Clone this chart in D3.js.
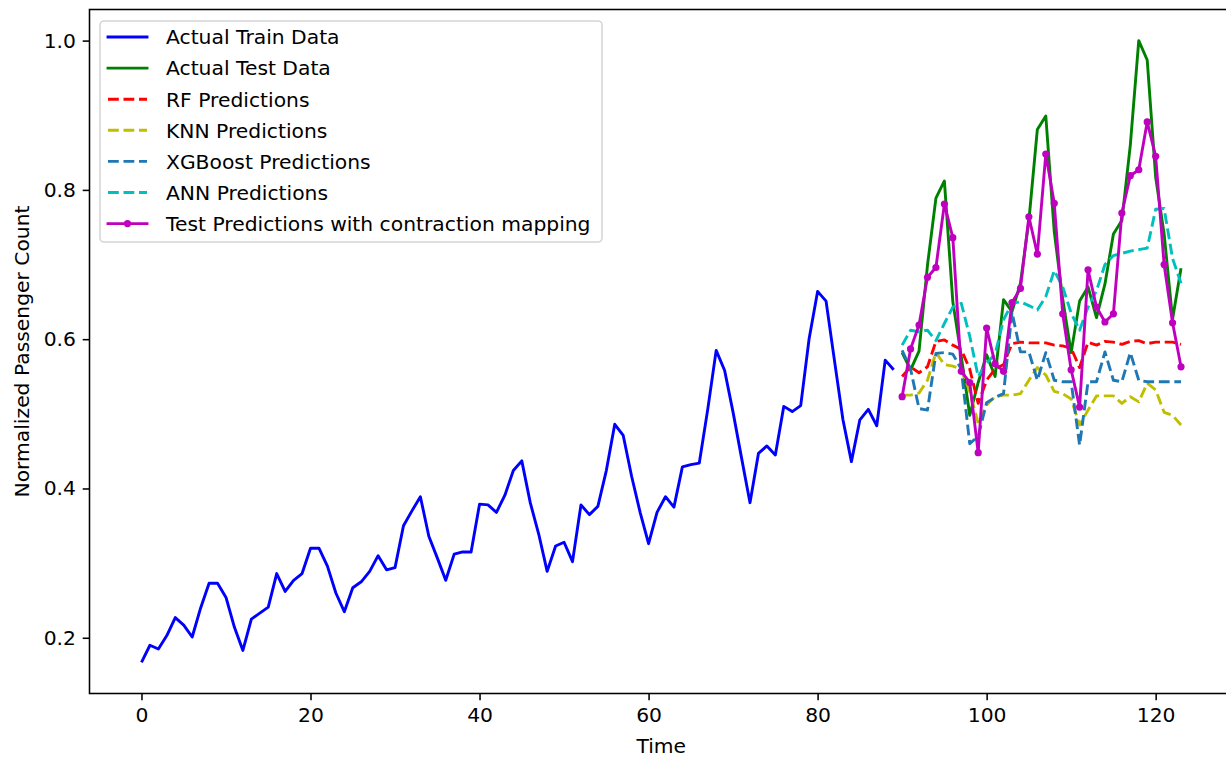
<!DOCTYPE html>
<html>
<head>
<meta charset="utf-8">
<script src="https://cdn.jsdelivr.net/npm/d3@7"></script>
<style>
body{margin:0;background:#fff;}
text{font-family:"DejaVu Sans",sans-serif;fill:#000;}
</style>
</head>
<body>
<div id="chart"></div>
<script>
// actual series (normalized passenger count)
var trainData = [
  0.167,0.190,
  0.185,0.203,0.227,0.217,0.201,0.240,0.273,0.273,0.254,0.214,0.183,0.225,
  0.233,0.241,0.286,0.262,0.277,0.286,0.320,0.320,0.296,0.260,0.235,0.267,
  0.275,0.289,0.310,0.291,0.294,0.350,0.370,0.389,0.336,0.307,0.277,0.312,
  0.315,0.315,0.379,0.378,0.368,0.391,0.424,0.437,0.381,0.339,0.289,0.323,
  0.328,0.302,0.378,0.365,0.376,0.424,0.486,0.471,0.416,0.368,0.326,0.368,
  0.389,0.375,0.429,0.432,0.434,0.506,0.585,0.558,0.502,0.441,0.381,0.447,
  0.457,0.445,0.510,0.503,0.511,0.601,0.664,0.651,0.571,0.492,0.436,0.492,
  0.506,0.484,0.572,0.559
];
var testData = [
  0.582,0.559,0.584,0.699,0.789,0.812,0.650,0.577,0.498,0.542,
  0.579,0.550,0.653,0.637,0.675,0.759,0.881,0.899,0.744,0.654,0.582,0.651,
  0.670,0.629,0.674,0.741,0.759,0.860,1.000,0.974,0.817,0.741,0.627,0.695
];
var testStart = 90;

// model predictions over the test range
var rfPred = [0.550,0.563,0.555,0.563,0.597,0.599,0.592,0.586,0.560,0.514,0.545,0.560,0.566,0.594,0.596,0.595,0.595,
  0.595,0.592,0.591,0.588,0.562,0.596,0.592,0.597,0.596,0.593,0.597,0.598,0.594,0.596,0.596,0.596,0.593];
var knnPred = [0.525,0.525,0.528,0.545,0.582,0.566,0.564,0.560,0.530,0.487,0.512,0.523,0.525,0.525,0.527,0.545,0.562,
  0.552,0.530,0.527,0.520,0.485,0.505,0.524,0.524,0.524,0.514,0.523,0.516,0.541,0.532,0.502,0.498,0.485];
var xgbPred = [0.585,0.560,0.507,0.505,0.581,0.582,0.580,0.560,0.460,0.470,0.515,0.522,0.527,0.636,0.583,0.583,0.545,
  0.582,0.545,0.543,0.543,0.458,0.543,0.543,0.583,0.545,0.543,0.582,0.545,0.543,0.543,0.543,0.543,0.543];
var annPred = [0.592,0.612,0.610,0.612,0.598,0.621,0.643,0.648,0.604,0.550,0.568,0.580,0.626,0.648,0.650,0.645,0.639,
  0.657,0.692,0.670,0.635,0.612,0.643,0.665,0.700,0.712,0.715,0.718,0.720,0.722,0.774,0.775,0.708,0.675];
var cmPred = [0.523,0.587,0.619,0.683,0.696,0.781,0.736,0.557,0.542,0.448,0.615,0.567,0.557,0.649,0.668,0.764,0.714,
  0.848,0.782,0.634,0.559,0.509,0.693,0.643,0.623,0.634,0.769,0.819,0.827,0.891,0.845,0.700,0.622,0.563];

var xTicks = [0,20,40,60,80,100,120];
var yTicks = [0.2,0.4,0.6,0.8,1.0];

var chart = {};
(function(ns){
  var W = 1226, H = 758;
  var left = 89.5, right = 1233, top = 9.5, bottom = 693.5;
  var fs = 20.3, lw = 2.9, dash = "10.8,4.7";

  var x = d3.scaleLinear().domain([-6.15, 129.15]).range([left, right]);
  var y = d3.scaleLinear().domain([0.12535, 1.04165]).range([bottom, top]);

  var svg = d3.select("#chart").append("svg").attr("width", W).attr("height", H);

  var series = [
    {name:"Actual Train Data", data:trainData, start:0, color:"#0000ff"},
    {name:"Actual Test Data", data:testData, start:testStart, color:"#008000"},
    {name:"RF Predictions", data:rfPred, start:testStart, color:"#ff0000", dashed:true},
    {name:"KNN Predictions", data:knnPred, start:testStart, color:"#bfbf00", dashed:true},
    {name:"XGBoost Predictions", data:xgbPred, start:testStart, color:"#1f77b4", dashed:true},
    {name:"ANN Predictions", data:annPred, start:testStart, color:"#00bfbf", dashed:true},
    {name:"Test Predictions with contraction mapping", data:cmPred, start:testStart, color:"#bf00bf", marker:true}
  ];

  series.forEach(function(s){
    var line = d3.line().x(function(d,i){ return x(s.start + i); }).y(function(d){ return y(d); });
    svg.append("path").datum(s.data).attr("d", line)
      .attr("fill","none").attr("stroke", s.color).attr("stroke-width", lw)
      .attr("stroke-linejoin","round")
      .attr("stroke-dasharray", s.dashed ? dash : null);
    if (s.marker) {
      svg.append("g").selectAll("circle").data(s.data).join("circle")
        .attr("cx", function(d,i){ return x(s.start + i); })
        .attr("cy", function(d){ return y(d); })
        .attr("r", 3.6).attr("fill", s.color);
    }
  });

  // axes
  var xAxis = svg.append("g").attr("transform","translate(0,"+bottom+")")
    .call(d3.axisBottom(x).tickValues(xTicks).tickSize(6.8).tickPadding(6.8).tickFormat(d3.format("d")));
  var yAxis = svg.append("g").attr("transform","translate("+left+",0)")
    .call(d3.axisLeft(y).tickValues(yTicks).tickSize(6.8).tickPadding(6.8).tickFormat(d3.format(".1f")));
  [xAxis, yAxis].forEach(function(a){
    a.select(".domain").remove();
    a.selectAll(".tick line").attr("stroke","#000").attr("stroke-width",1.55);
    a.selectAll(".tick text").attr("font-size", fs).attr("font-family","DejaVu Sans").attr("fill","#000");
  });

  svg.append("rect").attr("x", left).attr("y", top)
    .attr("width", right-left).attr("height", bottom-top)
    .attr("fill","none").attr("stroke","#000").attr("stroke-width",1.55);

  svg.append("text").attr("x", (left+right)/2).attr("y", 753)
    .attr("text-anchor","middle").attr("font-size", fs).text("Time");
  svg.append("text").attr("transform","translate(29,"+((top+bottom)/2)+") rotate(-90)")
    .attr("text-anchor","middle").attr("font-size", fs).text("Normalized Passenger Count");

  // legend
  var lg = svg.append("g");
  lg.append("rect").attr("x",100).attr("y",21).attr("width",502).attr("height",221)
    .attr("rx",4).attr("fill","#fff").attr("fill-opacity",0.8)
    .attr("stroke","#d5d5d5").attr("stroke-width",1.55);
  series.forEach(function(s,i){
    var cy = 37 + i*31.1;
    lg.append("line").attr("x1",108).attr("x2",147).attr("y1",cy).attr("y2",cy)
      .attr("stroke", s.color).attr("stroke-width", lw)
      .attr("stroke-linecap", s.dashed ? "butt" : "square")
      .attr("stroke-dasharray", s.dashed ? dash : null);
    if (s.marker) lg.append("circle").attr("cx",127.5).attr("cy",cy).attr("r",3.6).attr("fill",s.color);
    lg.append("text").attr("x",166).attr("y",cy).attr("dy","0.36em")
      .attr("font-size", fs).text(s.name);
  });
})(chart);
</script>
</body>
</html>
